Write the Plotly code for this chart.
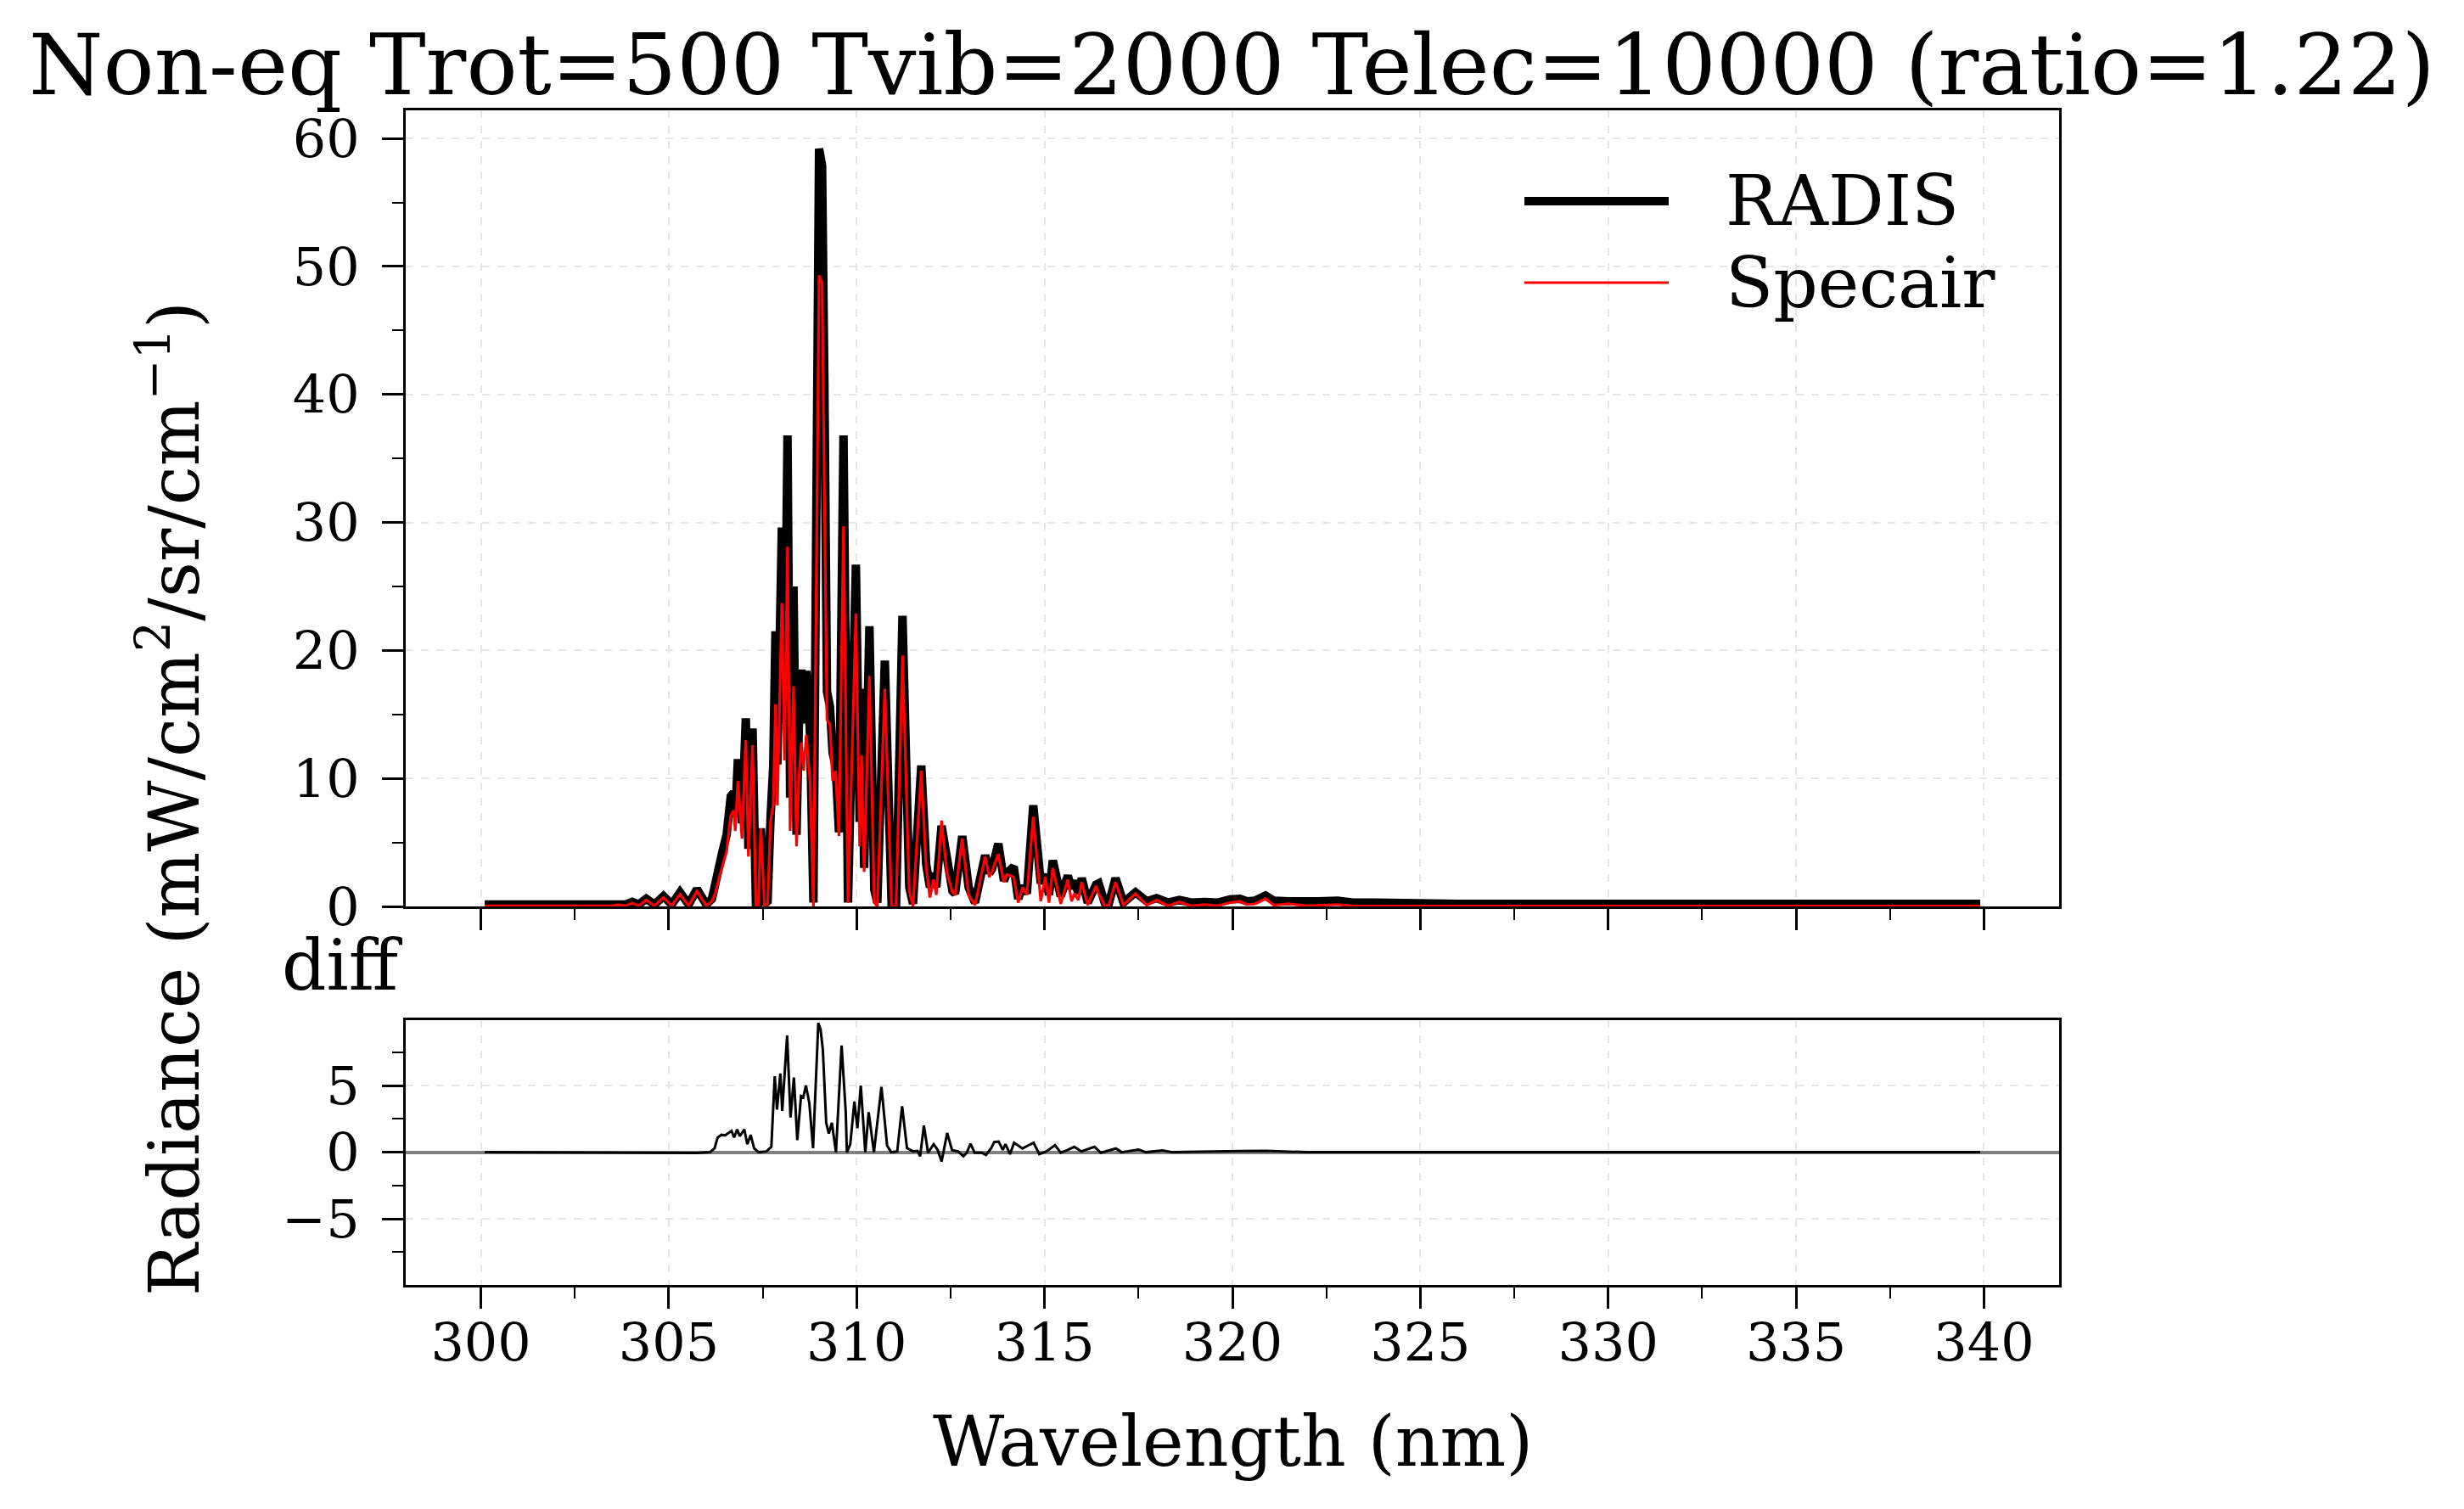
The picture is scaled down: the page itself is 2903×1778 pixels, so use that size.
import plotly.graph_objects as go

# ---------------- data ----------------
wavelength_nm = [
    300.1, 303.5, 303.65, 303.85, 304.03, 304.2, 304.4, 304.62, 304.86, 305.08,
    305.3, 305.53, 305.75, 306.0, 306.15, 306.24, 306.32, 306.43, 306.54, 306.65,
    306.73, 306.77, 306.84, 306.95, 307.05, 307.12, 307.23, 307.32, 307.38, 307.45,
    307.55, 307.63, 307.71, 307.78, 307.84, 307.89, 308.01, 308.08, 308.16, 308.23,
    308.32, 308.4, 308.46, 308.53, 308.59, 308.66, 308.76, 308.85, 309.0, 309.08,
    309.14, 309.21, 309.29, 309.36, 309.44, 309.53, 309.65, 309.77, 309.98, 310.08,
    310.13, 310.2, 310.34, 310.47, 310.55, 310.75, 310.93, 311.05, 311.22, 311.4,
    311.5, 311.72, 311.85, 311.95, 312.05, 312.12, 312.26, 312.4, 312.55, 312.62,
    312.81, 312.98, 313.15, 313.42, 313.53, 313.6, 313.77, 313.92, 314.0, 314.18,
    314.3, 314.42, 314.53, 314.7, 314.9, 315.02, 315.12, 315.22, 315.43, 315.62,
    315.72, 315.8, 315.9, 315.99, 316.15, 316.37, 316.44, 316.6, 316.71, 316.89,
    317.1, 317.42, 317.72, 317.98, 318.29, 318.59, 318.9, 319.26, 319.6, 319.94,
    320.2, 320.39, 320.6, 320.88, 321.1, 321.5, 322.0, 322.3, 322.8, 323.2,
    323.8, 324.5, 326.0, 330.0, 335.0, 339.9,
]
radis = [
    0.15, 0.15, 0.2, 0.15, 0.35, 0.15, 0.6, 0.15, 0.8, 0.15,
    1.1, 0.15, 1.35, 0.15, 0.6, 2.0, 3.2, 4.3, 5.6, 8.6,
    8.9, 7.0, 11.5, 6.5, 14.7, 4.5, 13.9, 0.2, 0.2, 6.1,
    0.2, 0.4, 7.0, 11.0, 21.5, 11.1, 29.6, 14.4, 36.8, 8.5,
    25.0, 5.6, 14.0, 18.5, 14.3, 18.4, 13.5, 0.3, 59.2, 57.9,
    41.4, 16.8, 15.6, 12.0, 11.0, 5.8, 36.8, 0.3, 26.7, 6.6,
    17.0, 3.0, 21.9, 1.3, 0.3, 19.2, 0.2, 0.2, 22.7, 1.5,
    0.2, 11.0, 3.3, 1.5, 2.6, 1.5, 6.3, 3.5, 1.2, 1.0,
    5.5, 1.5, 0.3, 4.0, 2.6, 2.9, 4.9, 2.0, 2.6, 3.1,
    0.6, 1.6, 1.0, 7.9, 1.8, 2.5, 0.9, 3.6, 0.8, 2.4,
    1.4, 2.0, 1.0, 2.2, 0.3, 1.7, 1.8, 0.3, 0.2, 2.2,
    0.3, 1.1, 0.4, 0.65, 0.3, 0.5, 0.3, 0.35, 0.3, 0.55,
    0.6, 0.4, 0.45, 0.85, 0.45, 0.4, 0.35, 0.4, 0.45, 0.3,
    0.3, 0.25, 0.2, 0.2, 0.2, 0.2,
]
specair = [
    0.05, 0.05, 0.12, 0.05, 0.25, 0.05, 0.5, 0.05, 0.7, 0.05,
    0.95, 0.05, 1.2, 0.05, 0.4, 1.0, 2.0, 3.1, 4.3, 7.1,
    7.5, 5.9, 9.8, 5.3, 13.0, 3.9, 12.6, 0.0, 0.1, 6.1,
    0.0, 0.2, 6.7, 7.9, 15.8, 7.9, 23.7, 11.4, 28.1, 5.9,
    17.2, 4.7, 9.8, 12.8, 10.6, 13.4, 9.8, 0.0, 49.3, 48.7,
    33.7, 14.6, 14.2, 9.8, 10.6, 5.5, 29.7, 0.3, 22.9, 4.7,
    11.8, 2.7, 18.0, 0.3, 0.0, 17.0, 0.0, 0.0, 19.6, 1.2,
    0.0, 10.6, 3.1, 0.7, 2.1, 0.9, 6.7, 2.7, 1.1, 0.9,
    5.3, 0.9, 0.1, 3.9, 2.3, 2.7, 4.1, 1.9, 2.5, 2.3,
    0.3, 1.5, 0.9, 7.0, 0.4, 2.3, 0.3, 3.0, 0.2, 2.1,
    0.4, 1.0, 0.5, 1.9, 0.1, 1.6, 1.0, 0.1, 0.05, 1.9,
    0.1, 1.0, 0.1, 0.5, 0.05, 0.35, 0.05, 0.15, 0.05, 0.3,
    0.4, 0.15, 0.2, 0.6, 0.1, 0.2, 0.05, 0.1, 0.15, 0.03,
    0.03, 0.02, 0.02, 0.02, 0.02, 0.02,
]

diff_wavelength_nm = [
    300.1, 303.65, 304.03, 304.4, 304.86, 305.3, 305.75, 306.1, 306.22, 306.3,
    306.4, 306.5, 306.57, 306.67, 306.74, 306.82, 306.89, 307.01, 307.09, 307.18,
    307.27, 307.39, 307.6, 307.73, 307.82, 307.88, 307.97, 308.02, 308.15, 308.24,
    308.33, 308.42, 308.52, 308.58, 308.65, 308.74, 308.84, 308.98, 309.04, 309.1,
    309.19, 309.26, 309.34, 309.45, 309.6, 309.71, 309.74, 309.83, 309.94, 310.02,
    310.11, 310.23, 310.32, 310.46, 310.66, 310.81, 310.92, 311.08, 311.21, 311.34,
    311.5, 311.62, 311.69, 311.79, 311.9, 312.05, 312.16, 312.26, 312.41, 312.54,
    312.7, 312.84, 312.93, 313.03, 313.14, 313.33, 313.44, 313.58, 313.66, 313.78,
    313.89, 313.96, 314.08, 314.19, 314.3, 314.41, 314.56, 314.71, 314.86, 315.05,
    315.28, 315.43, 315.62, 315.79, 315.98, 316.33, 316.5, 316.9, 317.05, 317.5,
    317.7, 318.14, 318.4, 319.2, 320.2, 320.9, 321.5, 322.0, 339.9,
]
diff_values = [
    0.0, -0.03, -0.05, -0.05, -0.06, -0.05, -0.05, 0.0, 0.3, 1.1,
    1.3, 1.27, 1.4, 1.6, 1.1, 1.7, 1.2, 1.7, 0.6, 1.3,
    0.3, 0.0, 0.06, 0.4, 5.7, 3.2, 5.9, 3.1, 8.75, 2.6,
    5.6, 0.9, 4.2, 4.1, 5.0, 3.7, 0.3, 9.7, 9.2, 7.7,
    2.2, 1.4, 2.2, 0.0, 8.0, 3.0, 0.0, 0.6, 3.8, 1.8,
    5.0, 0.0, 3.0, 0.0, 4.9, 0.5, 0.0, 0.06, 3.45, 0.3,
    0.06, 0.1, -0.3, 2.0, -0.04, 0.6, 0.15, -0.7, 1.44, 0.15,
    0.06, -0.3, -0.04, 0.64, -0.04, -0.04, -0.2, 0.3, 0.76, 0.8,
    0.17, 0.6, -0.15, 0.7, 0.5, 0.28, 0.5, 0.7, -0.15, 0.06,
    0.53, -0.04, 0.17, 0.4, 0.06, 0.4, -0.04, 0.28, 0.0, 0.2,
    0.0, 0.13, 0.0, 0.05, 0.08, 0.1, 0.03, 0.0, 0.0,
]

title_text = "Non-eq Trot=500 Tvib=2000 Telec=10000 (ratio=1.22)"
series_names = ["RADIS", "Specair"]
x_tick_values = [300, 305, 310, 315, 320, 325, 330, 335, 340]
main_y_ticks = [0, 10, 20, 30, 40, 50, 60]
diff_y_ticks = [-5, 0, 5]

# ---------------- layout geometry (pixels) ----------------
FONT = "DejaVu Serif"
W, H = 2903, 1778
PL, PR = 478, 2426          # plot area left / right
PT, PB = 130, 1514          # plot area top / bottom
MAIN_TOP, MAIN_BOT = 130, 1068
DIFF_TOP, DIFF_BOT = 1202, 1514
PH = PB - PT
PW = PR - PL


def py(pix):
    return (PB - pix) / PH


def px(pix):
    return (pix - PL) / PW


fig = go.Figure()
fig.add_trace(go.Scatter(x=wavelength_nm, y=radis, mode="lines", name=series_names[0],
                         line=dict(color="black", width=10), xaxis="x", yaxis="y",
                         showlegend=False))
fig.add_trace(go.Scatter(x=wavelength_nm, y=specair, mode="lines", name=series_names[1],
                         line=dict(color="#ff0000", width=3.2), xaxis="x", yaxis="y",
                         showlegend=False))
fig.add_trace(go.Scatter(x=diff_wavelength_nm, y=diff_values, mode="lines", name="diff",
                         line=dict(color="black", width=3), xaxis="x2", yaxis="y2",
                         showlegend=False))

tickfont = dict(family=FONT, size=62, color="black")
common = dict(showline=True, linecolor="black", linewidth=3, mirror=True,
              ticks="outside", ticklen=25, tickwidth=3, tickcolor="black",
              showgrid=True, gridcolor="#e6e6e6", gridwidth=2, griddash="dash",
              zeroline=False, tickfont=tickfont, ticklabelstandoff=14)

fig.update_layout(
    width=W, height=H,
    margin=dict(l=PL, r=W - PR, t=PT, b=H - PB, pad=0),
    paper_bgcolor="white", plot_bgcolor="white",
    font=dict(family=FONT, color="black"),
    showlegend=False,
    xaxis=dict(common, range=[298, 342], tickvals=x_tick_values, showticklabels=False,
               anchor="y",
               minor=dict(dtick=2.5, tick0=300, ticks="outside", ticklen=13, tickwidth=2,
                          tickcolor="black", showgrid=False)),
    yaxis=dict(common, range=[0, 62.2], tickvals=main_y_ticks,
               domain=[py(MAIN_BOT), py(MAIN_TOP)], anchor="x",
               minor=dict(dtick=5, tick0=0, ticks="outside", ticklen=13, tickwidth=2,
                          tickcolor="black", showgrid=False)),
    xaxis2=dict(common, range=[298, 342], tickvals=x_tick_values, matches="x",
                anchor="y2", ticklabelstandoff=-13,
                minor=dict(dtick=2.5, tick0=300, ticks="outside", ticklen=13, tickwidth=2,
                           tickcolor="black", showgrid=False)),
    yaxis2=dict(common, range=[-9.95, 9.9], tickvals=diff_y_ticks,
                domain=[py(DIFF_BOT), py(DIFF_TOP)], anchor="x2",
                zeroline=True, zerolinecolor="#808080", zerolinewidth=4,
                minor=dict(dtick=2.5, tick0=0, ticks="outside", ticklen=13, tickwidth=2,
                           tickcolor="black", showgrid=False)),
)

# manual legend (long line samples like the reference)
legend_rows = [(series_names[0], "black", 10, 237), (series_names[1], "#ff0000", 3.2, 333)]
for name, color, width, ypix in legend_rows:
    fig.add_shape(type="line", xref="paper", yref="paper",
                  x0=px(1796), x1=px(1966), y0=py(ypix), y1=py(ypix),
                  line=dict(color=color, width=width))
    fig.add_annotation(text=name, xref="paper", yref="paper", x=px(2031), y=py(ypix),
                       xanchor="left", yanchor="middle", showarrow=False,
                       font=dict(family=FONT, size=82, color="black"))

# title
fig.add_annotation(text=title_text, xref="paper", yref="paper",
                   x=px(1451), y=py(76), xanchor="center", yanchor="middle",
                   showarrow=False, font=dict(family=FONT, size=100, color="black"))
# x label
fig.add_annotation(text="Wavelength (nm)", xref="paper", yref="paper",
                   x=px(1452), y=py(1698), xanchor="center", yanchor="middle",
                   showarrow=False, font=dict(family=FONT, size=82, color="black"))
# y label
fig.add_annotation(text="Radiance (mW/cm<sup>2</sup>/sr/cm<sup>\u22121</sup>)",
                   xref="paper", yref="paper", x=px(200), y=py(941),
                   xanchor="center", yanchor="middle", textangle=-90,
                   showarrow=False, font=dict(family=FONT, size=82, color="black"))
# diff label
fig.add_annotation(text="diff", xref="paper", yref="paper", x=px(477), y=py(1137),
                   xanchor="right", yanchor="middle", showarrow=False,
                   font=dict(family=FONT, size=82, color="black"))

fig.write_html("out.html")
